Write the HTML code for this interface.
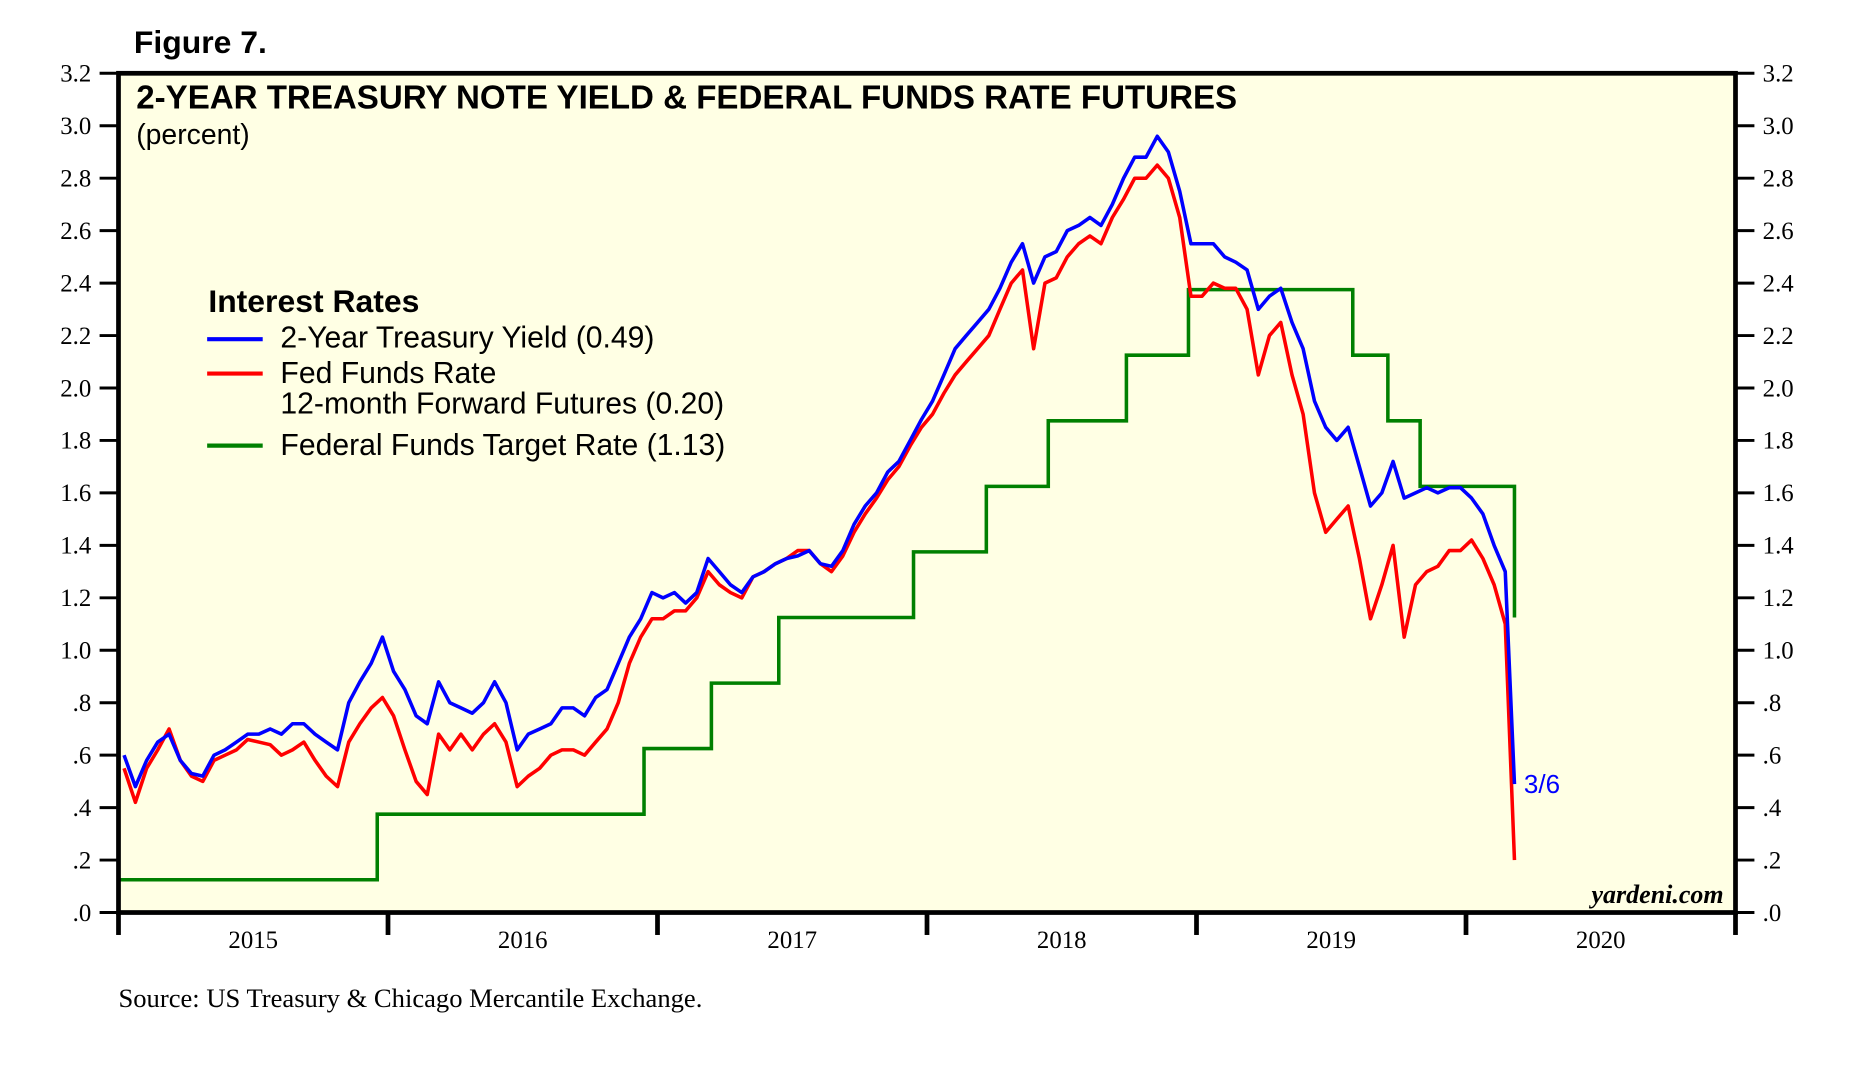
<!DOCTYPE html>
<html><head><meta charset="utf-8"><style>
html,body{margin:0;padding:0;background:#fff}
svg{display:block}
</style></head><body>
<svg id="chart" width="1854" height="1065" viewBox="0 0 1568 901" xmlns="http://www.w3.org/2000/svg" font-family="Liberation Sans, sans-serif">
<text x="113" y="45" font-size="27" font-weight="bold">Figure 7.</text>
<rect x="100" y="62" width="1368" height="710" fill="#ffffe4"/>
<g id="grid"></g>
<g id="series"></g>
<rect x="100" y="62" width="1368" height="710" fill="none" stroke="#000" stroke-width="4"/>
<text x="115" y="92" font-size="28" font-weight="bold">2-YEAR TREASURY NOTE YIELD &amp; FEDERAL FUNDS RATE FUTURES</text>
<text x="115" y="122" font-size="24">(percent)</text>
<g>
<text x="176" y="264" font-size="27" font-weight="bold">Interest Rates</text>
<line x1="175" y1="287" x2="222" y2="287" stroke="#0000ff" stroke-width="3.5"/>
<text x="237" y="294" font-size="25.5">2-Year Treasury Yield (0.49)</text>
<line x1="175" y1="316" x2="222" y2="316" stroke="#ff0000" stroke-width="3.5"/>
<text x="237" y="324" font-size="25.5">Fed Funds Rate</text>
<text x="237" y="350" font-size="25.5">12-month Forward Futures (0.20)</text>
<line x1="175" y1="377" x2="222" y2="377" stroke="#008000" stroke-width="3.5"/>
<text x="237" y="385" font-size="25.5">Federal Funds Target Rate (1.13)</text>
</g>
<text x="1289" y="671" font-size="22" fill="#0000ff">3/6</text>
<text x="1458" y="764" font-size="22" font-weight="bold" font-style="italic" text-anchor="end" font-family="Liberation Serif, serif">yardeni.com</text>
<text x="100" y="852" font-size="22.5" font-family="Liberation Serif, serif">Source: US Treasury &amp; Chicago Mercantile Exchange.</text>
</svg>
<script>
const yTicks = [0,0.2,0.4,0.6,0.8,1.0,1.2,1.4,1.6,1.8,2.0,2.2,2.4,2.6,2.8,3.0,3.2];
const yTickLabels = [".0",".2",".4",".6",".8","1.0","1.2","1.4","1.6","1.8","2.0","2.2","2.4","2.6","2.8","3.0","3.2"];
const years = [2015,2016,2017,2018,2019,2020];
const treasury = [
.60,.48,.58,.65,.68,.58,.53,.52,.60,.62,.65,.68,.68,.70,.68,.72,.72,.68,.65,.62,.80,.88,.95,1.05,
.92,.85,.75,.72,.88,.80,.78,.76,.80,.88,.80,.62,.68,.70,.72,.78,.78,.75,.82,.85,.95,1.05,1.12,1.22,
1.20,1.22,1.18,1.22,1.35,1.30,1.25,1.22,1.28,1.30,1.33,1.35,1.36,1.38,1.33,1.32,1.38,1.48,1.55,1.60,1.68,1.72,1.80,1.88,
1.95,2.05,2.15,2.20,2.25,2.30,2.38,2.48,2.55,2.40,2.50,2.52,2.60,2.62,2.65,2.62,2.70,2.80,2.88,2.88,2.96,2.90,2.75,2.55,
2.55,2.55,2.50,2.48,2.45,2.30,2.35,2.38,2.25,2.15,1.95,1.85,1.80,1.85,1.70,1.55,1.60,1.72,1.58,1.60,1.62,1.60,1.62,1.62,
1.58,1.52,1.40,1.30,0.49];
const futures = [
.55,.42,.55,.62,.70,.58,.52,.50,.58,.60,.62,.66,.65,.64,.60,.62,.65,.58,.52,.48,.65,.72,.78,.82,
.75,.62,.50,.45,.68,.62,.68,.62,.68,.72,.65,.48,.52,.55,.60,.62,.62,.60,.65,.70,.80,.95,1.05,1.12,
1.12,1.15,1.15,1.20,1.30,1.25,1.22,1.20,1.28,1.30,1.33,1.35,1.38,1.38,1.33,1.30,1.36,1.45,1.52,1.58,1.65,1.70,1.78,1.85,
1.90,1.98,2.05,2.10,2.15,2.20,2.30,2.40,2.45,2.15,2.40,2.42,2.50,2.55,2.58,2.55,2.65,2.72,2.80,2.80,2.85,2.80,2.65,2.35,
2.35,2.40,2.38,2.38,2.30,2.05,2.20,2.25,2.05,1.90,1.60,1.45,1.50,1.55,1.35,1.12,1.25,1.40,1.05,1.25,1.30,1.32,1.38,1.38,
1.42,1.35,1.25,1.10,0.20];
const targetDates = [2015.0,2015.96,2016.95,2017.2,2017.45,2017.95,2018.22,2018.45,2018.74,2018.97,2019.58,2019.71,2019.83,2020.17,2020.18];
const targetValues = [0.125,0.375,0.625,0.875,1.125,1.375,1.625,1.875,2.125,2.375,2.125,1.875,1.625,1.625,1.125];
const endDate = 2020.18;

const NS="http://www.w3.org/2000/svg";
const X0=100, X1=1468, YB=772, YT=62, YMAX=3.2;
const xs = t => X0 + (t-2015)*(X1-X0)/6;
const ys = v => YB - v*(YB-YT)/YMAX;
function mk(tag, attrs, parent){const e=document.createElementNS(NS,tag);for(const k in attrs)e.setAttribute(k,attrs[k]);parent.appendChild(e);return e;}
const grid=document.getElementById('grid'), ser=document.getElementById('series'), svg=document.getElementById('chart');
yTicks.forEach((v,i)=>{
  const y=ys(v);
  const l=mk('line',{x1:84,x2:100,y1:y,y2:y,stroke:'#000','stroke-width':2.5},svg);
  
  
  const r=mk('line',{x1:1468,x2:1484,y1:y,y2:y,stroke:'#000','stroke-width':2.5},svg);
  
  
  const t=mk('text',{x:77,y:y+7,'font-size':21,'text-anchor':'end','font-family':'Liberation Serif, serif'},svg);
  t.textContent=yTickLabels[i];
  
  
  const t2=mk('text',{x:1491,y:y+7,'font-size':21,'font-family':'Liberation Serif, serif'},svg);
  t2.textContent=yTickLabels[i];
  
  
});
for(let yr=2015; yr<=2021; yr++){
  const x=xs(yr);
  const l=mk('line',{x1:x,x2:x,y1:772,y2:791,stroke:'#000','stroke-width':4},svg);
  
  
}
years.forEach(yr=>{
  const t=mk('text',{x:xs(yr+0.5),y:802,'font-size':21,'text-anchor':'middle','font-family':'Liberation Serif, serif'},svg);
  t.textContent=String(yr);
  
  
});
function dateOf(i,n){ return i===n-1 ? endDate : 2015 + (i+0.5)/24; }
function path(vals){ return vals.map((v,i)=>(i?'L':'M')+xs(dateOf(i,vals.length)).toFixed(1)+','+ys(v).toFixed(1)).join(''); }
let d='M'+xs(targetDates[0])+','+ys(targetValues[0]);
for(let i=1;i<targetDates.length;i++){ d+='H'+xs(targetDates[i]).toFixed(1)+'V'+ys(targetValues[i]).toFixed(1); }
const g=mk('path',{d:d,fill:'none',stroke:'#008000','stroke-width':3},ser);


const r=mk('path',{d:path(futures),fill:'none',stroke:'#ff0000','stroke-width':3,'stroke-linejoin':'round'},ser);


const b=mk('path',{d:path(treasury),fill:'none',stroke:'#0000ff','stroke-width':3,'stroke-linejoin':'round'},ser);


</script>
</body></html>
